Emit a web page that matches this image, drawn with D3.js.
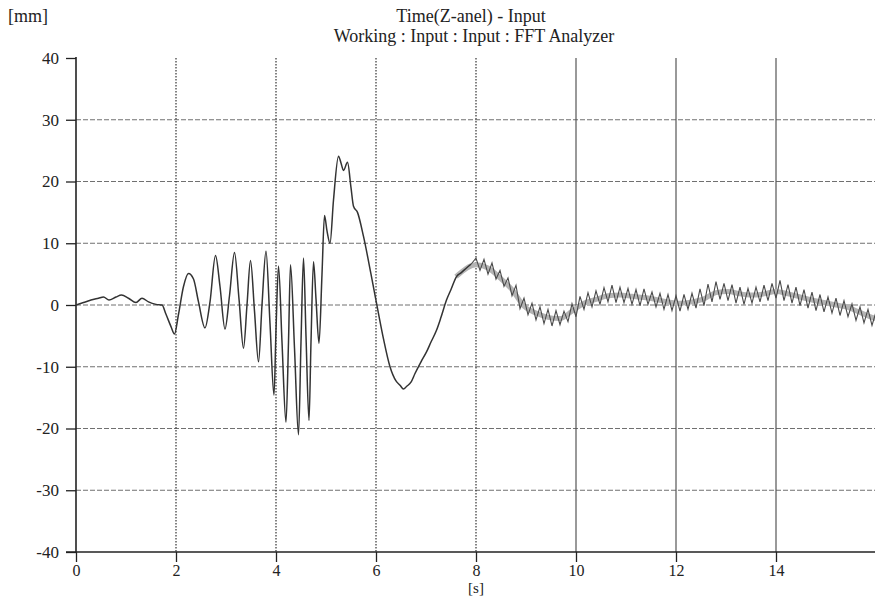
<!DOCTYPE html>
<html>
<head>
<meta charset="utf-8">
<script src="https://cdn.jsdelivr.net/npm/d3@7"></script>
<style>
  html, body { margin: 0; padding: 0; background: #fff; }
  svg { display: block; }
</style>
</head>
<body>
<svg id="chart" width="875" height="598"></svg>
<script>
// ---- Data ----
const titleLines = ["Time(Z-anel) - Input", "Working : Input : Input : FFT Analyzer"];
const yUnit = "[mm]";
const xUnit = "[s]";
const xTicks = [0, 2, 4, 6, 8, 10, 12, 14];
const yTicks = [40, 30, 20, 10, 0, -10, -20, -30, -40];
const dottedGridX = [2, 4, 6, 8];
const solidGridX = [10, 12, 14];
const gridY = [30, 20, 10, 0, -10, -20, -30];

// displacement signal: time [s]
const sigT = [0,0.15,0.3,0.45,0.55,0.66,0.8,0.91,1.05,1.2,1.32,1.45,1.6,1.72,1.8,1.9,1.97,2.05,2.15,2.25,2.35,2.45,2.58,2.68,2.79,2.88,2.98,3.07,3.17,3.26,3.35,3.42,3.49,3.57,3.65,3.72,3.80,3.88,3.96,4.0,4.05,4.12,4.20,4.25,4.29,4.37,4.45,4.50,4.55,4.60,4.66,4.70,4.75,4.80,4.86,4.92,4.97,5.02,5.08,5.15,5.25,5.30,5.35,5.43,5.50,5.55,5.63,5.75,5.9,6.05,6.15,6.28,6.4,6.48,6.55,6.61,6.7,6.78,6.9,7.01,7.1,7.21,7.3,7.41,7.5,7.61,7.7,7.81,7.9];
// displacement signal: value [mm]
const sigV = [0,0.4,0.8,1.1,1.3,0.8,1.3,1.6,1.1,0.4,1.1,0.5,0.1,0,-1.5,-3.5,-4.7,-1.5,3.0,5.1,4.2,0.5,-3.7,0.5,8.0,3.0,-3.9,1.5,8.5,1.0,-7.0,0,7.2,-1,-9.2,0,8.7,-3,-14.6,-4,6.3,-6,-19.0,-6,6.5,-7,-21.0,-6,7.6,-5,-18.7,-6,7.0,1,-6.2,5,14.5,12,10.0,17,24.1,23,21.8,23.1,19,16.0,15.0,11.1,5,-1.4,-5.5,-10.0,-12.3,-13.0,-13.6,-13.2,-12.5,-11.1,-9.2,-7.6,-6.0,-4.1,-2.0,0.8,2.5,4.6,5.2,6.0,6.6];

// noisy tail of the signal (8 s onward): time [s]
const tailT = [7.9,8.00,8.08,8.16,8.24,8.32,8.40,8.48,8.56,8.64,8.72,8.80,8.88,8.96,9.04,9.12,9.20,9.28,9.36,9.44,9.52,9.60,9.68,9.76,9.84,9.92,10.00,10.08,10.16,10.24,10.32,10.40,10.48,10.56,10.64,10.72,10.80,10.88,10.96,11.04,11.12,11.20,11.28,11.36,11.44,11.52,11.60,11.68,11.76,11.84,11.92,12.00,12.08,12.16,12.24,12.32,12.40,12.48,12.56,12.64,12.72,12.80,12.88,12.96,13.04,13.12,13.20,13.28,13.36,13.44,13.52,13.60,13.68,13.76,13.84,13.92,14.00,14.08,14.16,14.24,14.32,14.40,14.48,14.56,14.64,14.72,14.80,14.88,14.96,15.04,15.12,15.20,15.28,15.36,15.44,15.52,15.60,15.68,15.76,15.84,15.92,16.00];
// noisy tail: value [mm]
const tailV = [6.6,7.6,5.6,7.4,5.0,6.8,4.2,5.6,3.0,4.4,1.5,3.2,-0.6,1.1,-1.6,0.3,-2.4,-0.3,-3.0,-0.7,-3.4,-0.9,-3.2,-1.0,-2.7,0.2,-1.9,1.4,-0.7,2.0,-0.3,2.3,0.1,2.8,0.5,3.2,0.4,2.9,0.4,2.7,0.1,2.5,-0.1,2.6,0.1,2.1,-0.3,1.9,-0.7,1.7,-0.9,1.5,-1.0,1.7,-0.7,1.9,-0.5,2.6,-0.1,3.4,0.5,3.8,0.9,3.5,0.7,3.3,0.3,2.9,0.1,2.7,0.3,2.9,0.5,3.2,0.7,3.5,1.1,4.0,0.7,3.3,0.3,2.9,-0.1,2.5,-0.5,2.1,-0.9,1.7,-1.1,1.3,-1.3,1.1,-1.7,0.7,-1.9,0.2,-2.5,-0.3,-2.9,-0.7,-3.3,-1.1];

// smoothed trend (grey band) of the noisy tail
const trendT = [7.6,8.0,8.24,8.48,8.72,8.96,9.2,9.44,9.68,9.92,10.16,10.4,10.64,10.88,11.12,11.36,11.6,11.84,12.08,12.32,12.56,12.8,13.04,13.28,13.52,13.76,14.0,14.24,14.48,14.72,14.96,15.2,15.44,15.68,15.92,16.0];
const trendV = [4.6,6.5,6.0,4.4,2.5,-0.2,-1.3,-2.0,-2.2,-1.0,0.3,0.9,1.5,1.6,1.4,1.2,0.9,0.5,0.3,0.5,1.0,2.0,2.2,1.8,1.6,1.8,2.2,1.8,1.3,0.8,0.4,0.0,-0.4,-1.2,-2.0,-2.2];

// ---- Drawing ----
const FONT = "'Liberation Serif', 'Times New Roman', 'DejaVu Serif', serif";
const svg = d3.select("#chart");
const x = d3.scaleLinear().domain([0, 16]).range([76, 876]);
const y = d3.scaleLinear().domain([-40, 40]).range([552, 58]);

svg.append("defs").append("clipPath").attr("id", "plotclip")
  .append("rect").attr("x", 76).attr("y", 50).attr("width", 800).attr("height", 503);

function label(xp, yp, txt, size, anchor) {
  return svg.append("text").attr("x", xp).attr("y", yp)
    .attr("text-anchor", anchor || "start")
    .style("font-family", FONT).style("font-size", size + "px").style("fill", "#222")
    .text(txt);
}

// titles
label(471, 22, titleLines[0], 18, "middle");
label(474, 42, titleLines[1], 18, "middle");
label(8, 22, yUnit, 18);

// grid
const grid = svg.append("g");
grid.selectAll("line.gy").data(gridY).join("line")
  .attr("x1", 76).attr("x2", 875)
  .attr("y1", d => y(d)).attr("y2", d => y(d))
  .attr("stroke", "#707070").attr("stroke-width", 1).attr("stroke-dasharray", "5,2");
grid.selectAll("line.gxd").data(dottedGridX).join("line")
  .attr("x1", d => x(d)).attr("x2", d => x(d))
  .attr("y1", 58).attr("y2", 552)
  .attr("stroke", "#333").attr("stroke-width", 1.2).attr("stroke-dasharray", "1.5,1.5");
grid.selectAll("line.gxs").data(solidGridX).join("line")
  .attr("x1", d => x(d)).attr("x2", d => x(d))
  .attr("y1", 58).attr("y2", 552)
  .attr("stroke", "#555").attr("stroke-width", 1.2);

// axes
const yAxis = d3.axisLeft(y).tickValues(yTicks).tickSize(10).tickPadding(7).tickFormat(d => String(d));
const gy = svg.append("g").attr("transform", "translate(76,0)").call(yAxis);
gy.select(".domain").remove();
gy.selectAll(".tick line").attr("stroke", "#222").attr("stroke-width", 1.3);
gy.selectAll(".tick text").style("font-family", FONT).style("font-size", "17px").style("fill", "#222");

const xAxis = d3.axisBottom(x).tickValues(xTicks).tickSize(10).tickPadding(2.5).tickFormat(d => String(d));
const gx = svg.append("g").attr("transform", "translate(0,552)").call(xAxis);
gx.select(".domain").remove();
gx.selectAll(".tick line").attr("stroke", "#222").attr("stroke-width", 1.3);
gx.selectAll(".tick text").style("font-family", FONT).style("font-size", "16px").style("fill", "#222");

svg.append("line").attr("x1", 76).attr("x2", 76).attr("y1", 57).attr("y2", 553)
  .attr("stroke", "#222").attr("stroke-width", 1.6);
svg.append("line").attr("x1", 66).attr("x2", 875).attr("y1", 552).attr("y2", 552)
  .attr("stroke", "#222").attr("stroke-width", 1.6);

label(x(8), 593, xUnit, 15, "middle");

// signal
const plot = svg.append("g").attr("clip-path", "url(#plotclip)");
const pts = (ts, vs) => ts.map((t, i) => [t, vs[i]]);
const smooth = d3.line().x(d => x(d[0])).y(d => y(d[1])).curve(d3.curveMonotoneX);
const straight = d3.line().x(d => x(d[0])).y(d => y(d[1]));

plot.append("path").datum(pts(trendT, trendV)).attr("d", smooth)
  .attr("fill", "none").attr("stroke", "#b4b4b4").attr("stroke-width", 5);
plot.append("path").datum(pts(sigT, sigV)).attr("d", smooth)
  .attr("fill", "none").attr("stroke", "#333").attr("stroke-width", 1.5);
plot.append("path").datum(pts(tailT, tailV)).attr("d", straight)
  .attr("fill", "none").attr("stroke", "#4a4a4a").attr("stroke-width", 1.1);
</script>
</body>
</html>
